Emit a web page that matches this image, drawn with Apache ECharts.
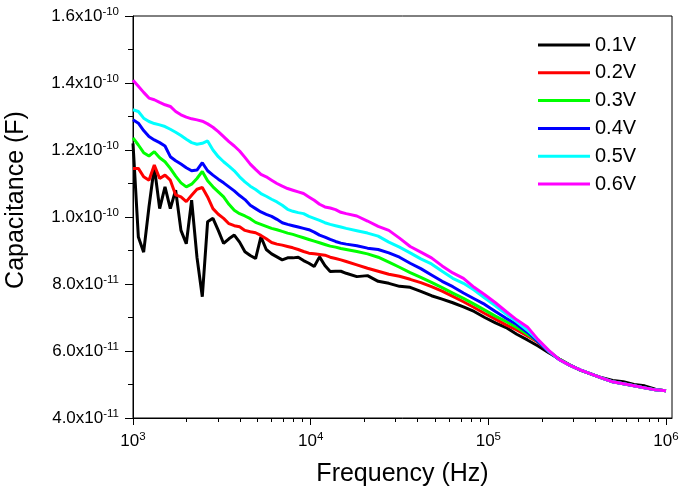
<!DOCTYPE html>
<html><head><meta charset="utf-8">
<script src="https://cdn.jsdelivr.net/npm/echarts@6/dist/echarts.min.js"></script>
<style>html,body{margin:0;padding:0;background:#fff}#c{width:685px;height:495px}</style>
</head><body><div id="c"></div>
<script>
const FONT = "'Liberation Sans', Arial, sans-serif";

// Frequency (Hz)
const frequencyHz = [1000,1072,1148,1230,1318,1413,1514,1622,1738,1862,1995,2138,2291,2455,2630,2818,3020,3236,3467,3715,3981,4266,4571,4898,5248,5623,6026,6457,6918,7413,7943,8511,9120,9772,10471,11220,12023,12882,13804,14791,15849,
18197,20893,23988,27542,31623,36308,41687,47863,54954,63096,72444,83176,95499,109648,125893,144544,165959,190546,218776,251189,288403,331131,380189,436516,501187,575440,660693,758578,870964,1000000];

// Capacitance in units of 1e-11 F
const CAP_UNIT = 1e-11;
const cap01V = [12.2,9.4,8.95,10.3,11.5,10.25,10.9,10.25,10.8,9.6,9.2,10.5,8.8,7.62,9.86,9.96,9.6,9.21,9.35,9.46,9.25,8.96,8.85,8.76,9.41,9.03,8.9,8.81,8.72,8.78,8.78,8.8,8.7,8.62,8.52,8.81,8.55,8.37,8.38,8.38,8.32,
8.22,8.25,8.08,8.02,7.93,7.9,7.78,7.65,7.55,7.44,7.32,7.18,7.0,6.84,6.70,6.5,6.33,6.15,5.95,5.76,5.58,5.42,5.31,5.2,5.12,5.08,5.0,4.96,4.86,4.81];
const cap02V = [11.45,11.45,11.2,11.1,11.55,11.15,11.25,11.1,10.66,10.6,10.46,10.65,10.83,10.88,10.6,10.25,10.08,9.96,9.8,9.74,9.71,9.6,9.56,9.53,9.45,9.35,9.24,9.19,9.16,9.12,9.08,9.03,8.97,8.92,8.9,8.88,8.86,8.8,8.76,8.72,8.67,
8.57,8.47,8.38,8.29,8.23,8.14,8.04,7.92,7.79,7.63,7.47,7.3,7.12,6.95,6.78,6.63,6.45,6.26,5.98,5.75,5.57,5.43,5.31,5.19,5.08,5.02,4.96,4.9,4.84,4.81];
const cap03V = [12.36,12.15,11.92,11.82,11.95,11.77,11.65,11.45,11.22,11.02,10.9,10.98,11.15,11.36,11.08,10.9,10.75,10.6,10.38,10.2,10.1,10.03,9.95,9.84,9.78,9.72,9.66,9.62,9.57,9.52,9.48,9.43,9.38,9.33,9.28,9.23,9.18,9.13,9.1,9.06,9.03,
8.97,8.9,8.8,8.65,8.5,8.34,8.2,8.05,7.89,7.73,7.57,7.4,7.22,7.04,6.88,6.7,6.5,6.28,6.0,5.75,5.57,5.43,5.31,5.19,5.08,5.02,4.96,4.9,4.84,4.81];
const cap04V = [12.9,12.8,12.58,12.4,12.3,12.22,12.12,11.8,11.68,11.58,11.47,11.38,11.4,11.62,11.38,11.25,11.13,11.02,10.9,10.78,10.64,10.52,10.35,10.25,10.15,10.08,10.02,9.93,9.83,9.78,9.74,9.7,9.66,9.62,9.55,9.46,9.4,9.33,9.27,9.22,9.19,
9.14,9.07,9.03,8.93,8.8,8.62,8.46,8.27,8.08,7.92,7.73,7.56,7.39,7.18,6.98,6.79,6.56,6.28,5.98,5.74,5.57,5.43,5.31,5.19,5.08,5.02,4.96,4.9,4.84,4.81];
const cap05V = [13.2,13.15,12.95,12.85,12.79,12.75,12.7,12.62,12.53,12.43,12.32,12.22,12.17,12.2,12.27,12.0,11.8,11.65,11.52,11.38,11.2,11.05,10.92,10.82,10.7,10.62,10.53,10.45,10.35,10.23,10.17,10.13,10.1,10.02,9.96,9.9,9.83,9.78,9.74,9.7,9.66,
9.59,9.52,9.43,9.25,9.1,8.93,8.75,8.6,8.38,8.17,8.02,7.82,7.58,7.35,7.1,6.87,6.62,6.32,6.0,5.74,5.57,5.43,5.31,5.19,5.08,5.02,4.96,4.9,4.84,4.81];
const cap06V = [14.08,13.9,13.72,13.55,13.5,13.42,13.35,13.3,13.15,13.05,12.98,12.93,12.9,12.86,12.78,12.68,12.55,12.4,12.25,12.12,11.97,11.78,11.58,11.42,11.27,11.2,11.1,11.0,10.92,10.85,10.8,10.75,10.7,10.6,10.5,10.38,10.3,10.27,10.22,10.14,10.1,
10.03,9.88,9.72,9.6,9.37,9.12,8.95,8.78,8.54,8.33,8.17,7.9,7.68,7.44,7.18,6.93,6.72,6.34,6.02,5.74,5.57,5.43,5.31,5.19,5.08,5.02,4.96,4.9,4.84,4.81];

const seriesNames = ['0.1V','0.2V','0.3V','0.4V','0.5V','0.6V'];
const seriesValues = [cap01V, cap02V, cap03V, cap04V, cap05V, cap06V];
const seriesColors = ['#000000','#ff0000','#00ff00','#0000ff','#00ffff','#ff00ff'];

const xMajorTicks = [1e3, 1e4, 1e5, 1e6];
const xMinorTicks = [2e3,3e3,4e3,5e3,6e3,7e3,8e3,9e3,2e4,3e4,4e4,5e4,6e4,7e4,8e4,9e4,2e5,3e5,4e5,5e5,6e5,7e5,8e5,9e5];
const yMin = 4, yMax = 16, yStep = 2;

const chart = echarts.init(document.getElementById('c'), null, {renderer: 'canvas'});

function xLabel(v) {
  const e = Math.log10(v), r = Math.round(e);
  if (Math.abs(e - r) > 0.002) return '';
  return '{m|10}{s|' + r + '}';
}
function yLabel(v) {
  const big = v >= 10 - 1e-9;
  const m = big ? v / 10 : v;
  const e = Math.round(Math.log10(v * CAP_UNIT / m));
  return '{m|' + m.toFixed(1) + 'x10}{s|' + e + '}';
}

const labelRich = {
  m: {fontSize: 17, fontFamily: FONT, color: '#000'},
  s: {fontSize: 11.5, fontFamily: FONT, color: '#000', padding: [0, 0, 9, 0]}
};

chart.setOption({
  animation: false,
  backgroundColor: '#fff',
  grid: {left: 133, right: 13, top: 16, bottom: 77, show: true, borderColor: '#000', borderWidth: 1, outerBoundsMode: 'none', containLabel: false},
  legend: {
    orient: 'vertical', left: 538, top: 35, padding: 0,
    icon: 'path://M0,0H52V3H0Z',
    itemWidth: 52, itemHeight: 3, itemGap: 7.8,
    textStyle: {fontSize: 20, fontFamily: FONT, color: '#000'},
    data: seriesNames
  },
  xAxis: [{
    type: 'log', logBase: 10, min: 1000, max: 1081000,
    name: 'Frequency (Hz)', nameLocation: 'middle', nameGap: 44,
    nameTextStyle: {fontSize: 25, fontFamily: FONT, color: '#000'},
    axisLine: {show: true, lineStyle: {color: '#000', width: 1}},
    axisTick: {show: true, length: 7, lineStyle: {color: '#000', width: 1}, customValues: xMajorTicks},
    axisLabel: {margin: 13, formatter: xLabel, rich: labelRich, customValues: xMajorTicks},
    splitLine: {show: false}, minorTick: {show: false}
  }, {
    type: 'log', logBase: 10, min: 1000, max: 1081000, position: 'bottom',
    axisLine: {show: false},
    axisTick: {show: true, length: 4, lineStyle: {color: '#000', width: 1}, customValues: xMinorTicks},
    axisLabel: {show: false},
    splitLine: {show: false}
  }],
  yAxis: {
    type: 'value', min: yMin, max: yMax, interval: yStep,
    name: 'Capacitance (F)', nameLocation: 'middle', nameGap: 104,
    nameTextStyle: {fontSize: 25, fontFamily: FONT, color: '#000', padding: [0, 0, 0, 34]},
    axisLine: {show: true, lineStyle: {color: '#000', width: 1}},
    axisTick: {show: true, length: 8, lineStyle: {color: '#000', width: 1}},
    minorTick: {show: true, splitNumber: 2, length: 5, lineStyle: {color: '#000', width: 1}},
    axisLabel: {margin: 14, formatter: yLabel, rich: labelRich},
    splitLine: {show: false}
  },
  series: seriesNames.map((name, k) => ({
    name: name, type: 'line', xAxisIndex: 0, symbol: 'none', showSymbol: false,
    color: seriesColors[k],
    itemStyle: {color: seriesColors[k]},
    lineStyle: {color: seriesColors[k], width: 3},
    data: frequencyHz.map((f, i) => [f, seriesValues[k][i]])
  }))
});
</script></body></html>
